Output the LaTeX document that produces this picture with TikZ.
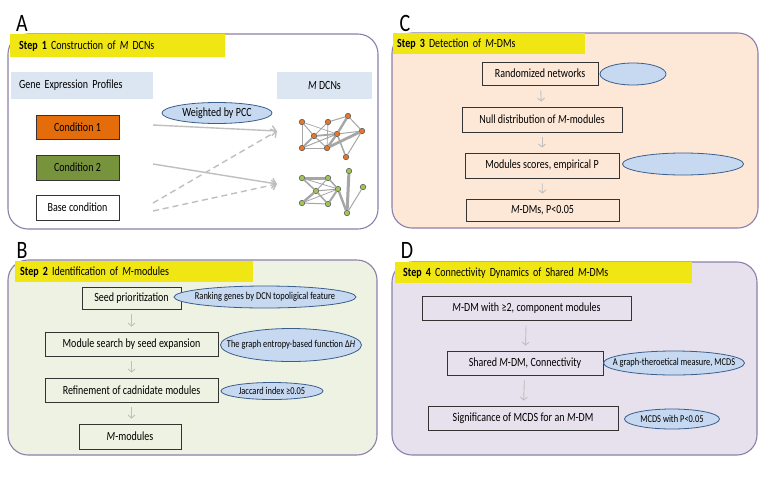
\documentclass[tikz,border=0pt]{standalone}
\usepackage{fontspec}
\setmainfont[FakeStretch=0.8]{Carlito}
\usetikzlibrary{shapes.geometric,arrows.meta}
\definecolor{PanelLine}{HTML}{8C7FAA}
\definecolor{BannerYellow}{HTML}{F0E614}
\definecolor{HeaderBlue}{HTML}{DCE6F2}
\definecolor{NoteFill}{HTML}{C6D9F1}
\definecolor{NoteLine}{HTML}{3B5E8C}
\definecolor{ArrowGray}{HTML}{BFBFBF}
\definecolor{EdgeGray}{HTML}{A6A6A6}
\definecolor{CondOrange}{HTML}{E46C0A}
\definecolor{CondGreen}{HTML}{77933C}
\definecolor{DotOrange}{HTML}{E8772E}
\definecolor{DotGreen}{HTML}{A4C456}
\definecolor{FillB}{HTML}{EEF2E2}
\definecolor{FillC}{HTML}{FDE8D8}
\definecolor{FillD}{HTML}{E6E1ED}
\newcommand{\BoxFont}{\fontsize{12.5}{14}\selectfont\spaceskip=0.19em\relax}
\newcommand{\NoteFont}{\fontsize{10.5}{12}\selectfont\spaceskip=0.19em\relax}
\newcommand{\Tag}[1]{\makebox[0pt]{#1}}
\tikzset{
    Panel/.style={draw=PanelLine, line width=1.1pt, rounded corners=20pt},
    Banner/.style={fill=BannerYellow, inner xsep=5pt, inner ysep=0pt,
        minimum height=22pt, anchor=north west, align=left, font=\BoxFont},
    Header/.style={fill=HeaderBlue, inner sep=0pt, minimum height=27pt, font=\BoxFont},
    Box/.style={draw=black!80, line width=0.8pt, inner sep=0pt,
        minimum height=24pt, font=\BoxFont},
    Note/.style={ellipse, draw=NoteLine, fill=NoteFill, line width=0.8pt,
        inner sep=0pt, font=\NoteFont},
    Flow/.style={draw=ArrowGray, line width=0.9pt,
        -{Straight Barb[length=3pt,width=7pt]}, shorten <=5pt, shorten >=5pt},
    Link/.style={draw=ArrowGray, line width=1.4pt,
        -{Straight Barb[length=4pt,width=10pt]}},
    Dot/.style={circle, draw=black!70, line width=0.5pt, minimum size=5.5pt, inner sep=0pt},
    Letter/.style={font=\fontsize{25}{25}\selectfont, inner sep=0pt}
}

\begin{document}
\begin{tikzpicture}[x=1pt, y=-1pt]
\useasboundingbox (0,0) rectangle (768,480);

\draw[Panel, fill=white] (8,34) rectangle (378,229);
\draw[Panel, fill=FillC] (392,33) rectangle (758,228);
\draw[Panel, fill=FillB] (8,260) rectangle (377,455);
\draw[Panel, fill=FillD] (392,262) rectangle (757,455);

\node[Letter] (letterA) at (22,23) {A};
\node[Letter] (letterC) at (405,23) {C};
\node[Letter] (letterB) at (22,250) {B};
\node[Letter] (letterD) at (407,250) {D};

\node[Banner, text width=197pt, minimum height=23pt, inner xsep=9pt] (stepA) at (10,34) {\textbf{Step 1} Construction of \textit{M} DCNs};
\node[Banner, text width=184pt, minimum height=21pt, inner xsep=4pt] (stepC) at (393,33) {\textbf{Step 3} Detection of \textit{M}-DMs};
\node[Banner, text width=228pt, minimum height=21pt] (stepB) at (15,261) {\textbf{Step 2} Identification of \textit{M}-modules};
\node[Banner, text width=281pt, minimum height=21pt, inner xsep=8pt] (stepD) at (395,262) {\textbf{Step 4} Connectivity Dynamics of Shared \textit{M}-DMs};

\node[Header, minimum width=142pt, text width=126pt, inner xsep=8pt, align=left] (gene) at (82,85.5) {Gene Expression Profiles};
\node[Header, minimum width=95pt] (dcn) at (324.5,85.5) {\textit{M} DCNs};
\node[Box, fill=CondOrange, minimum width=83pt] (cond1) at (77.5,127) {Condition 1};
\node[Box, fill=CondGreen, minimum width=83pt, minimum height=25pt] (cond2) at (77.5,167.5) {Condition 2};
\node[Box, fill=white, minimum width=83pt, minimum height=25pt] (base) at (77.5,207.5) {Base condition};
\node[Note, minimum width=110pt, minimum height=21pt, font=\BoxFont] (pcc) at (217,113) {\Tag{Weighted by PCC}};

\coordinate (from1) at (153,125);
\coordinate (from2) at (153,164);
\coordinate (from3) at (153,203);
\coordinate (from4) at (153,211);
\coordinate (to1) at (277,131);
\coordinate (to2) at (277,184);
\draw[Link] (from1) -- (to1);
\draw[Link] (from2) -- (to2);
\draw[Link, dash pattern=on 6pt off 4pt] (from3) -- (to1);
\draw[Link, dash pattern=on 6pt off 4pt] (from4) -- (to2);

\foreach \n/\x/\y in {1/302/122, 2/328/122, 3/348/116, 4/314/136, 5/337/134,
    6/362/131, 7/302/148, 8/327/148, 9/346/157}
    \node[Dot, fill=DotOrange] (o\n) at (\x,\y) {};
\foreach \u/\v/\w in {1/7/1, 1/4/1, 1/5/0.7, 2/3/1, 2/4/1, 2/8/0.8, 3/6/1, 3/5/2.4,
    4/5/1.8, 4/7/2, 4/8/1, 7/8/1, 7/5/1, 5/8/2.4, 8/6/2.8, 5/6/1, 5/9/1.5, 6/9/1}
    \draw[EdgeGray, line width=\w pt] (o\u) -- (o\v);

\foreach \n/\x/\y in {1/302/178, 2/328/178, 3/349/171, 4/316/191, 5/338/189,
    6/363/187, 7/302/203, 8/328/204, 9/347/213}
    \node[Dot, fill=DotGreen] (g\n) at (\x,\y) {};
\foreach \u/\v/\w in {1/2/3, 1/4/1.5, 2/4/1, 2/5/1.5, 1/5/0.8, 4/5/1, 4/7/2.4,
    4/8/1.5, 7/8/1, 5/8/2, 7/5/0.8, 5/9/2.4, 3/9/3, 6/9/1}
    \draw[EdgeGray, line width=\w pt] (g\u) -- (g\v);

\node[Box, minimum width=116pt, minimum height=23pt] (rand) at (540,73.5) {Randomized networks};
\node[Note, minimum width=66pt, minimum height=22pt] (blank1) at (633,74) {};
\node[Box, minimum width=160pt, minimum height=25pt] (null) at (542,119.5) {Null distribution of \textit{M}-modules};
\node[Box, minimum width=154pt, minimum height=25pt] (score) at (542,165.5) {Modules scores, empirical P};
\node[Note, minimum width=121pt, minimum height=22pt] (blank2) at (683,164) {};
\node[Box, minimum width=153pt, minimum height=22pt] (mdm) at (542.5,210) {\textit{M}-DMs, P<0.05};
\draw[Flow] (rand) -- (null);
\draw[Flow] (null) -- (score);
\draw[Flow] (score) -- (mdm);

\node[Box, minimum width=99pt, minimum height=22pt] (seed) at (131.5,298) {Seed prioritization};
\node[Note, minimum width=182pt, minimum height=22pt] (rank) at (265,297) {\Tag{Ranking genes by DCN topoligical feature}};
\node[Box, minimum width=173pt] (search) at (131.5,344) {Module search by seed expansion};
\node[Note, minimum width=141pt, minimum height=33pt] (entropy) at (291,345) {\Tag{The graph entropy-based function Δ\textit{H}}};
\node[Box, minimum width=173pt] (refine) at (131.5,390) {Refinement of cadnidate modules};
\node[Note, minimum width=102pt, minimum height=17pt] (jaccard) at (272,391) {\Tag{Jaccard index ≥0.05}};
\node[Box, minimum width=102pt, minimum height=25pt] (mmod) at (130,436.5) {\textit{M}-modules};
\draw[Flow] (seed) -- (seed |- search.north);
\draw[Flow] (search) -- (refine);
\draw[Flow] (refine.south -| seed) -- (seed |- mmod.north);

\node[Box, minimum width=209pt] (comp) at (526.5,308) {\textit{M}-DM with ≥2, component modules};
\node[Box, minimum width=156pt] (share) at (525,363) {Shared \textit{M}-DM, Connectivity};
\node[Note, minimum width=141pt, minimum height=24pt] (mcds) at (674,363) {\Tag{A graph-theroetical measure, MCDS}};
\node[Box, minimum width=190pt] (signif) at (523,418) {Significance of MCDS for an \textit{M}-DM};
\node[Note, minimum width=95pt, minimum height=20pt] (pval) at (672,419) {\Tag{MCDS with P<0.05}};
\draw[Flow] (comp) -- (share);
\draw[Flow] (share) -- (signif);
\end{tikzpicture}
\end{document}
